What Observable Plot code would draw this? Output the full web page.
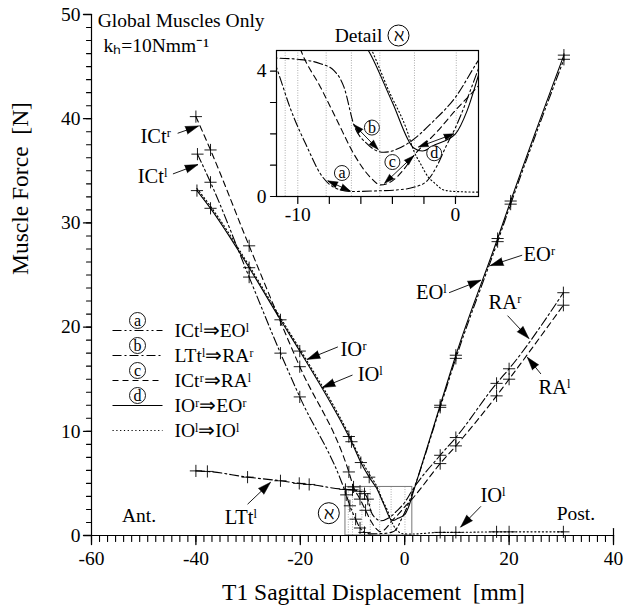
<!DOCTYPE html>
<html><head><meta charset="utf-8">
<script src="https://cdn.jsdelivr.net/npm/d3@7"></script>
<script src="https://cdn.jsdelivr.net/npm/@observablehq/plot@0.6"></script>
<style>
html,body{margin:0;padding:0;background:#fff;}
#wrap{position:relative;width:627px;height:609px;overflow:hidden;}
#inset{position:absolute;left:246px;top:20px;}
svg{overflow:visible;}
</style></head><body>
<div id="wrap"><div id="main"></div><div id="inset"></div></div>
<script>
// ---------------- data ----------------
// a: ICt^l => EO^l
const aPts = [[-39.7,36.6],[-37.2,33.9],[-29.8,24.8],[-23.8,17.5],[-20.1,13.3],[-11.2,3.9],[-10.5,2.85],[-9.4,1.57],[-8.56,0.72],[-7.7,0.29],[-6.66,0.16],[-5.0,0.18],[-3.5,0.22],[-2.6,0.3],[-1.8,0.5],[-1.2,0.95],[-0.6,1.6],[0,2.2],[1.4,4.0],[6.8,12.3],[9.8,17.0],[17.8,28.2],[20.3,31.8],[30.5,45.7]];
// b: LTt^l => RA^r
const bPts = [[-40,6.2],[-37.8,6.15],[-30.1,5.6],[-23.8,5.25],[-20.2,5.0],[-18.3,4.9],[-11.35,4.42],[-10,4.38],[-8.56,4.24],[-7.7,4.02],[-7.07,3.49],[-6.45,2.3],[-5.6,1.68],[-4.55,1.41],[-3.07,1.68],[-1.37,2.42],[0,3.17],[1.38,4.29],[6.8,7.7],[9.8,9.4],[17.6,14.6],[20,16.0],[30.4,23.3]];
// c: ICt^r => RA^l
const cPts = [[-40,40.2],[-37.2,37.0],[-29.8,27.8],[-20.1,16.2],[-10.7,6.1],[-9.8,4.66],[-8.56,3.49],[-7.5,2.42],[-6.45,1.36],[-5.39,0.61],[-4.76,0.37],[-4.0,0.5],[-3.3,0.85],[-2.65,1.3],[-1.2,2.05],[0,2.75],[1.4,3.5],[6.8,6.9],[9.8,8.6],[17.6,13.4],[20,15.0],[30.4,22.1]];
// d: IO^r => EO^r
const dPts = [[-39.8,33.1],[-37.2,31.4],[-29.8,25.7],[-23.8,20.7],[-20.1,17.7],[-10.7,9.5],[-10.2,9.0],[-8.4,7.0],[-6.8,5.6],[-5.4,4.55],[-4,3.0],[-2.65,1.55],[-2.1,1.45],[-1.3,1.65],[0,2.0],[0.74,2.74],[1.48,3.9],[6.8,12.5],[9.8,17.3],[17.8,28.5],[20.3,32.1],[30.5,46.1]];
// e: IO^l => IO^l
const ePts = [[-39.8,33.3],[-37.2,31.6],[-29.8,25.9],[-23.8,20.9],[-20.1,17.9],[-10.7,9.7],[-8.4,7.3],[-6.8,5.9],[-5.3,4.66],[-4.76,4.02],[-4.33,3.49],[-3.07,2.1],[-2.64,1.45],[-2.22,1.05],[-1.7,0.6],[-1.37,0.45],[-0.7,0.2],[0,0.16],[1.4,0.14],[6.8,0.3],[9.8,0.3],[17.6,0.35],[20,0.35],[30.4,0.35]];

const detailGrid = [-10.8,-10.0,-8.2,-6.6,-4.8,-2.6,0.05];
const xMajor = [-60,-40,-20,0,20,40];
const xMinor = d3.range(0,66).map(i => -60 + i*20/13);
const yMajor = [0,10,20,30,40,50];
const yMinor = d3.range(0,50.01,1.25);
const insetXTicks = [-10,-8,-6,-4,-2,0];
const insetXLabels = [-10,0];
const insetYTicks = [0,1,2,3,4];
const insetYLabels = [0,4];
const legendKeys = ["a","b","c","d",""];
const legendTexts = ["ICtˡ⇒EOˡ","LTtˡ⇒RAʳ","ICtʳ⇒RAˡ","IOʳ⇒EOʳ","IOˡ⇒IOˡ"];

const mainLabels = [
 {t:"ICtʳ", x:-47.7, y:38.3, x1:-43.5, y1:38.6, x2:-39.5, y2:39.3},
 {t:"ICtˡ", x:-48.3, y:34.5, x1:-44.4, y1:34.7, x2:-39.6, y2:35.6},
 {t:"IOʳ",  x:-9.8,  y:17.9, x1:-12.8, y1:18.1, x2:-18.7, y2:16.9},
 {t:"IOˡ",  x:-6.6,  y:15.5, x1:-10.0, y1:15.4, x2:-15.8, y2:14.2},
 {t:"EOʳ",  x:25.8,  y:27.0, x1:22.5,  y1:26.9, x2:16.4,  y2:25.9},
 {t:"EOˡ",  x:5.1,   y:23.3, x1:8.5,   y1:23.3, x2:14.6,  y2:24.5},
 {t:"RAʳ",  x:19.2,  y:22.4, x1:19.7,  y1:21.1, x2:23.8,  y2:18.9},
 {t:"RAˡ",  x:28.7,  y:14.2, x1:26.1,  y1:15.5, x2:23.5,  y2:17.1},
 {t:"IOˡ",  x:16.9,  y:3.8,  x1:14.6,  y1:2.8,  x2:10.7,  y2:0.8},
 {t:"LTtˡ", x:-31.4, y:1.7,  x1:-30.1, y1:3.0,  x2:-25.7, y2:5.1}
];
const plainLabels = [
 {t:"Global Muscles Only", x:-58.8, y:49.4, anchor:"start"},
 {t:"kₕ=10Nmm⁻¹", x:-57.7, y:47.0, anchor:"start"},
 {t:"Ant.", x:-50.9, y:1.9, anchor:"middle"},
 {t:"Post.", x:32.8, y:2.1, anchor:"middle"}
];
const insetArrows = [
 {k:"a", cx:-7.2, cy:0.75, x1:-8.1, y1:0.5, x2:-6.66, y2:0.17},
 {k:"b", cx:-5.3, cy:2.2, x1:-6.45, y1:2.3, x2:-4.9, y2:1.5},
 {k:"c", cx:-4.0, cy:1.1, x1:-4.5, y1:0.42, x2:-2.65, y2:1.3},
 {k:"d", cx:-1.35, cy:1.38, x1:-2.35, y1:1.58, x2:-0.1, y2:2.0}
];
const insetX = [-11.35, 1.46];
const insetY = [0, 4.66];

// ---------------- layout ----------------
const W = 627, H = 609, ml = 91, mr = 14, mt = 14, mb = 74;
const xDom = [-60, 40], yDom = [0, 50];
const kx = (W-ml-mr)/(xDom[1]-xDom[0]), ky = (H-mt-mb)/(yDom[1]-yDom[0]);
const PX = px => xDom[0] + (px-ml)/kx, PY = py => yDom[1] - (py-mt)/ky;
const FONT = "'Liberation Serif', 'Times New Roman', serif";
const FS = 19.5, FA = 20.5, FT = 23.5;
const fmt = d => String(d);
const series = [
 {pts:aPts, dash:"9,3,2,3,2,3", left:true},
 {pts:bPts, dash:"9,3,2,3", left:true},
 {pts:cPts, dash:"6,4", left:true},
 {pts:dPts, dash:null, left:true},
 {pts:ePts, dash:"1.2,2.6", left:false}
];
const ang = (x1,y1,x2,y2,sx,sy) => Math.atan2((x2-x1)*sx, (y2-y1)*sy)*180/Math.PI;

function heads(data, sx, sy, both, len, r) {
  const h = data.map(d => ({x:d.x2, y:d.y2, a:ang(d.x1,d.y1,d.x2,d.y2,sx,sy)}));
  if (both) data.forEach(d => h.push({x:d.x1, y:d.y1, a:ang(d.x2,d.y2,d.x1,d.y1,sx,sy)}));
  return Plot.vector(h, {x:"x", y:"y", rotate:"a", length:len, r:r, shape:"spike", anchor:"end", fill:"black", stroke:"black", strokeWidth:0.5});
}
// tick marks as vector marks (pixel lengths), pointing down / left from the axes
function xTicks(vals, y0, len, w) { return Plot.vector(vals, {x:d=>d, y:()=>y0, length:len, rotate:180, anchor:"start", stroke:"black", strokeWidth:w, shape:{draw(c,l){c.moveTo(0,0);c.lineTo(0,-l);}}}); }
function yTicks(vals, x0, len, w) { return Plot.vector(vals, {y:d=>d, x:()=>x0, length:len, rotate:270, anchor:"start", stroke:"black", strokeWidth:w, shape:{draw(c,l){c.moveTo(0,0);c.lineTo(0,-l);}}}); }

const marks = [];
marks.push(Plot.ruleX(detailGrid, {y1:insetY[0], y2:insetY[1], stroke:"#999", strokeDasharray:"1,1.5", strokeWidth:0.8}));
marks.push(Plot.rect([0], {x1:insetX[0], x2:insetX[1], y1:insetY[0], y2:insetY[1], fill:"none", stroke:"#777", strokeWidth:1}));
series.forEach(s => {
  marks.push(Plot.line(s.pts, {x:d=>d[0], y:d=>d[1], curve:"monotone-x", stroke:"black", strokeWidth:1.1, strokeDasharray:s.dash}));
  const cr = s.pts.filter(d => (s.left && d[0] <= -6.7) || d[0] >= 6);
  marks.push(Plot.dot(cr, {x:d=>d[0], y:d=>d[1], symbol:"plus", r:4, stroke:"black", strokeWidth:0.9}));
});
marks.push(Plot.ruleY([0], {stroke:"black", strokeWidth:1.2}));
marks.push(Plot.ruleX([xDom[0]], {stroke:"black", strokeWidth:1.2}));
marks.push(xTicks(xMinor, 0, 6, 1.1));
marks.push(xTicks(xMajor, 0, 9, 1.3));
marks.push(Plot.vector([xDom[1]], {x:d=>d, y:()=>0, length:7, rotate:0, anchor:"start", stroke:"black", strokeWidth:1.2, shape:{draw(c,l){c.moveTo(0,0);c.lineTo(0,-l);}}}));
marks.push(yTicks(yMinor, xDom[0], 5, 1.1));
marks.push(yTicks(yMajor, xDom[0], 8, 1.3));
marks.push(Plot.axisX(xMajor, {tickSize:0, tickPadding:16, tickFormat:fmt, label:null, fontSize:FS, fontFamily:FONT}));
marks.push(Plot.axisY(yMajor, {tickSize:0, tickPadding:11, tickFormat:fmt, label:null, fontSize:FS, fontFamily:FONT}));
marks.push(Plot.text(["Muscle Force  [N]"], {frameAnchor:"left", dx:-71, rotate:-90, text:d=>d, fontSize:FT, fontFamily:FONT, fill:"black"}));
marks.push(Plot.text(["T1 Sagittal Displacement  [mm]"], {x:PX(373), y:0, dy:57, text:d=>d, fontSize:FT, fontFamily:FONT, fill:"black"}));
marks.push(Plot.link(mainLabels, {x1:"x1", y1:"y1", x2:"x2", y2:"y2", stroke:"black", strokeWidth:0.9}));
marks.push(heads(mainLabels, kx, ky, false, 13, 4));
marks.push(Plot.text(mainLabels, {x:"x", y:"y", text:"t", fontSize:FA, fontFamily:FONT, fill:"black"}));
plainLabels.forEach(l => marks.push(Plot.text([l], {x:"x", y:"y", text:"t", textAnchor:l.anchor, fontSize:FS, fontFamily:FONT, fill:"black"})));
marks.push(Plot.dot([0], {x:PX(328.3), y:PY(512.7), r:10.5, fill:"white", stroke:"black", strokeWidth:1}));
marks.push(Plot.text(["ℵ"], {x:PX(328.3), y:PY(512.7), text:d=>d, fontSize:17, fontFamily:FONT, fill:"black"}));
legendTexts.forEach((t, i) => {
  const py = 330 + 25*i;
  const s = series[i];
  marks.push(Plot.link([0], {x1:PX(112), x2:PX(162), y1:PY(py), y2:PY(py), stroke:"black", strokeWidth:1.1, strokeDasharray:s.dash}));
  marks.push(Plot.text([t], {x:PX(174), y:PY(py), text:d=>d, textAnchor:"start", fontSize:FS, fontFamily:FONT, fill:"black"}));
  if (legendKeys[i]) {
    marks.push(Plot.dot([0], {x:PX(137), y:PY(py-10), r:8, fill:"white", stroke:"black", strokeWidth:0.9}));
    marks.push(Plot.text([legendKeys[i]], {x:PX(137), y:PY(py-10), text:d=>d, fontSize:16, fontFamily:FONT, fill:"black"}));
  }
});

const main = Plot.plot({
  width:W, height:H, marginLeft:ml, marginRight:mr, marginTop:mt, marginBottom:mb,
  x:{domain:xDom, axis:null}, y:{domain:yDom, axis:null},
  style:{fontFamily:FONT, background:"white", color:"black"},
  marks
});
document.getElementById("main").appendChild(main);

// ---------------- inset ----------------
const iW = 237, iH = 206, iml = 30, imr = 5, imt = 30, imb = 30;
const ikx = (iW-iml-imr)/(insetX[1]-insetX[0]), iky = (iH-imt-imb)/(insetY[1]-insetY[0]);
const IX = px => insetX[0] + (px-iml)/ikx, IY = py => insetY[1] - (py-imt)/iky;
const im = [];
im.push(Plot.frame({fill:"white", stroke:"none"}));
im.push(Plot.ruleX(detailGrid, {stroke:"#999", strokeDasharray:"1,1.5", strokeWidth:0.8}));
series.forEach(s => im.push(Plot.line(s.pts, {x:d=>d[0], y:d=>d[1], curve:"monotone-x", stroke:"black", strokeWidth:1.1, strokeDasharray:s.dash, clip:true})));
im.push(Plot.frame({stroke:"black", strokeWidth:1.2}));
im.push(xTicks(insetXTicks, insetY[0], 7, 1.2));
im.push(yTicks(insetYTicks, insetX[0], 6, 1.2));
im.push(Plot.axisX(insetXLabels, {tickSize:0, tickPadding:11, tickFormat:fmt, label:null, fontSize:FS, fontFamily:FONT}));
im.push(Plot.axisY(insetYLabels, {tickSize:0, tickPadding:10, tickFormat:fmt, label:null, fontSize:FS, fontFamily:FONT}));
im.push(Plot.link(insetArrows, {x1:"x1", y1:"y1", x2:"x2", y2:"y2", stroke:"black", strokeWidth:0.9}));
im.push(heads(insetArrows, ikx, iky, true, 10, 3.2));
im.push(Plot.dot(insetArrows, {x:"cx", y:"cy", r:7.5, fill:"white", stroke:"black", strokeWidth:0.9}));
im.push(Plot.text(insetArrows, {x:"cx", y:"cy", text:"k", fontSize:16, fontFamily:FONT, fill:"black"}));
im.push(Plot.text(["Detail"], {x:IX(112), y:IY(15), text:d=>d, fontSize:FS, fontFamily:FONT, fill:"black"}));
im.push(Plot.dot([0], {x:IX(152), y:IY(15), r:10.5, fill:"white", stroke:"black", strokeWidth:1}));
im.push(Plot.text(["ℵ"], {x:IX(152), y:IY(15), text:d=>d, fontSize:17, fontFamily:FONT, fill:"black"}));
const inset = Plot.plot({
  width:iW, height:iH, marginLeft:iml, marginRight:imr, marginTop:imt, marginBottom:imb,
  x:{domain:insetX, axis:null}, y:{domain:insetY, axis:null},
  style:{fontFamily:FONT, background:"transparent", color:"black"},
  marks: im
});
document.getElementById("inset").appendChild(inset);
</script>
</body></html>
